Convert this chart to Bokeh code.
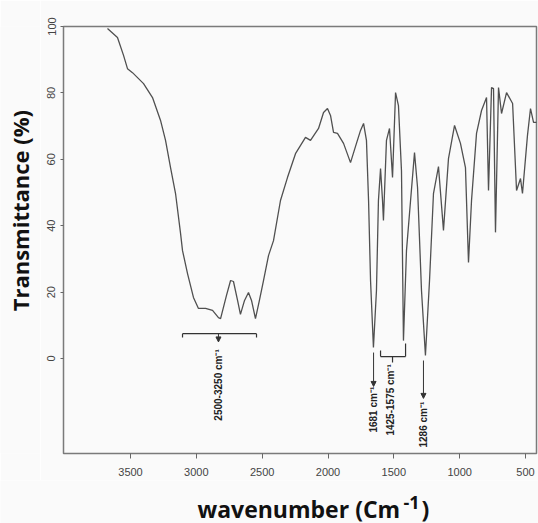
import math
from bokeh.plotting import figure
from bokeh.layouts import column, row
from bokeh.models import FixedTicker, Range1d, Arrow, NormalHead, ColumnDataSource
from bokeh.core.properties import value
from bokeh.embed import file_html
from bokeh.resources import INLINE

# ---- data ----
wavenumber = [3675, 3599, 3553, 3523, 3485, 3401, 3333, 3272, 3234, 3196, 3158, 3120, 3105, 3067,
              3022, 2984, 2930, 2877, 2832, 2816, 2771, 2740, 2718, 2687, 2665, 2634, 2604, 2581,
              2551, 2521, 2490, 2452, 2414, 2361, 2308, 2247, 2171, 2133, 2072, 2034, 2004, 1981,
              1958, 1928, 1882, 1829, 1784, 1753, 1730, 1708, 1692, 1677, 1655, 1632, 1617, 1601,
              1586, 1579, 1556, 1533, 1510, 1487, 1465, 1442, 1427, 1404, 1373, 1343, 1320, 1290,
              1260, 1229, 1199, 1161, 1123, 1085, 1039, 994, 956, 933, 910, 872, 834, 796, 781,
              758, 743, 728, 705, 682, 644, 598, 568, 538, 523, 485, 462, 439, 409]
transmittance = [99.4, 96.7, 91.3, 87.3, 86.1, 82.8, 78.6, 71.7, 65.7, 57.5, 49.7, 37.7, 32.5, 25.6,
                 18.4, 15.1, 15.1, 14.5, 12.3, 12.0, 19.0, 23.5, 23.2, 17.5, 13.3, 17.5, 19.9, 17.5,
                 12.0, 17.5, 23.5, 31.0, 35.5, 47.6, 54.5, 61.7, 66.6, 65.7, 69.3, 74.1, 75.3, 73.2,
                 68.1, 67.8, 64.8, 59.0, 64.8, 68.7, 70.8, 65.7, 47.6, 23.5, 3.3, 20.5, 47.6, 57.2,
                 47.6, 41.6, 65.7, 69.3, 54.5, 80.1, 76.2, 56.6, 5.4, 32.5, 47.6, 62.0, 51.5, 20.5,
                 0.9, 23.5, 49.7, 57.8, 38.6, 60.2, 70.2, 64.8, 57.5, 28.9, 47.6, 67.8, 74.7, 78.6, 50.6,
                 81.6, 81.3, 38.0, 81.6, 73.8, 80.1, 76.8, 50.6, 54.2, 49.7, 67.2, 75.3, 71.1, 71.1]
x_ticks = [500, 1000, 1500, 2000, 2500, 3000, 3500]
y_ticks = [0, 20, 40, 60, 80, 100]
band_labels = ["2500-3250 cm\u207b\u00b9", "1681 cm\u207b\u00b9", "1425-1575 cm\u207b\u00b9", "1286 cm\u207b\u00b9"]
y_title = "Transmittance (%)"
x_title_parts = ["wavenumber (Cm", "-1", ")"]

# ---- layout (page pixels) ----
W, H = 538, 523
MAIN_H = 480          # main figure height; x-title strip below it
YSTRIP_W = 40         # y-title strip width; main figure to its right
X0, X1 = 4009, 416.5
Y0, Y1 = -28.6, 100
FL, FR, FT, FB = 63, 536, 26, 453   # frame edges in page pixels

BG = "#fafafa"


def strip(width, height):
    s = figure(width=width, height=height, output_backend="svg", toolbar_location=None,
               x_range=Range1d(0, width), y_range=Range1d(0, height),
               x_axis_location=None, y_axis_location=None,
               min_border_left=0, min_border_right=0, min_border_top=0, min_border_bottom=0)
    s.grid.visible = False
    s.outline_line_color = None
    s.background_fill_color = BG
    s.border_fill_color = BG
    return s


# main plot
p = figure(width=W - YSTRIP_W, height=MAIN_H, output_backend="svg", toolbar_location=None,
           x_range=Range1d(X0, X1), y_range=Range1d(Y0, Y1),
           min_border_left=FL - YSTRIP_W, min_border_right=W - FR, min_border_top=FT,
           min_border_bottom=MAIN_H - FB)
p.background_fill_color = BG
p.border_fill_color = BG
p.outline_line_color = "#7a7a7a"
p.outline_line_width = 1.5
p.xgrid.visible = False
p.ygrid.visible = False

for ax in (p.xaxis[0], p.yaxis[0]):
    ax.axis_line_color = "#7a7a7a"
    ax.major_tick_line_color = "#666666"
    ax.minor_tick_line_color = None
    ax.major_tick_in = 0
    ax.major_label_text_font = "Liberation Sans"
    ax.major_label_text_font_size = "11px"
    ax.major_label_text_color = "#444444"
p.xaxis.ticker = FixedTicker(ticks=x_ticks)
p.yaxis.ticker = FixedTicker(ticks=y_ticks)
p.xaxis.major_tick_out = 5
p.xaxis.major_label_standoff = 9
p.yaxis.major_tick_out = 3
p.yaxis.major_label_standoff = 5
p.yaxis.major_label_orientation = "vertical"

# spectrum
p.line(wavenumber, transmittance, line_color="#505050", line_width=1.3)

# ---- band annotations (data units) ----
ink = "#333333"
seg = dict(
    x0=[3105, 3105, 2543, 1601, 1601, 1411, 1510],
    y0=[7.5, 7.5, 7.5, 0.6, 0.6, 0.6, 0.6],
    x1=[2543, 3105, 2543, 1411, 1601, 1411, 1510],
    y1=[7.5, 6.3, 6.3, 0.6, 2.4, 4.5, -1.2],
)
p.segment(x0="x0", y0="y0", x1="x1", y1="y1", source=ColumnDataSource(seg),
          line_color=ink, line_width=1.2)

for (xa, ya0, ya1) in [(2832, 7.5, 5.0), (1654, 1.8, -8.4), (1275, -0.6, -12.0)]:
    p.add_layout(Arrow(x_start=xa, y_start=ya0, x_end=xa, y_end=ya1,
                       line_color=ink, line_width=1.0,
                       end=NormalHead(size=5, fill_color=ink, line_color=ink)))

p.text(x=[2832, 1654, 1525, 1275], y=[-18.7, -22.3, -23.2, -26.8], text=band_labels,
       angle=math.pi / 2, text_align="left", text_baseline="middle",
       text_font=value("Liberation Sans"), text_font_size="10px",
       text_font_style="bold", text_color="#222222")

# ---- y-axis title strip (page pixel coordinates, y measured from its bottom) ----
ys = strip(YSTRIP_W, MAIN_H)
ys.text(x=[19], y=[MAIN_H - 207], text=[y_title], angle=math.pi / 2,
        text_align="center", text_baseline="middle",
        text_font=value("Open Sans"), text_font_style="bold",
        text_font_size="22px", text_color="#111111")

# ---- x-axis title strip ----
SH = H - MAIN_H
xs = strip(W, SH)
xs.text(x=[197, 421], y=[H - 508, H - 508], text=[x_title_parts[0], x_title_parts[2]],
        text_align="left", text_baseline="alphabetic",
        text_font=value("Open Sans"), text_font_style="bold",
        text_font_size="23px", text_color="#111111")
xs.text(x=[403], y=[H - 502], text=[x_title_parts[1]],
        text_align="left", text_baseline="alphabetic",
        text_font=value("Open Sans"), text_font_style="bold",
        text_font_size="18px", text_color="#111111")

layout = column(row(ys, p, spacing=0), xs, spacing=0)
open("out.html", "w").write(file_html(layout, INLINE))
